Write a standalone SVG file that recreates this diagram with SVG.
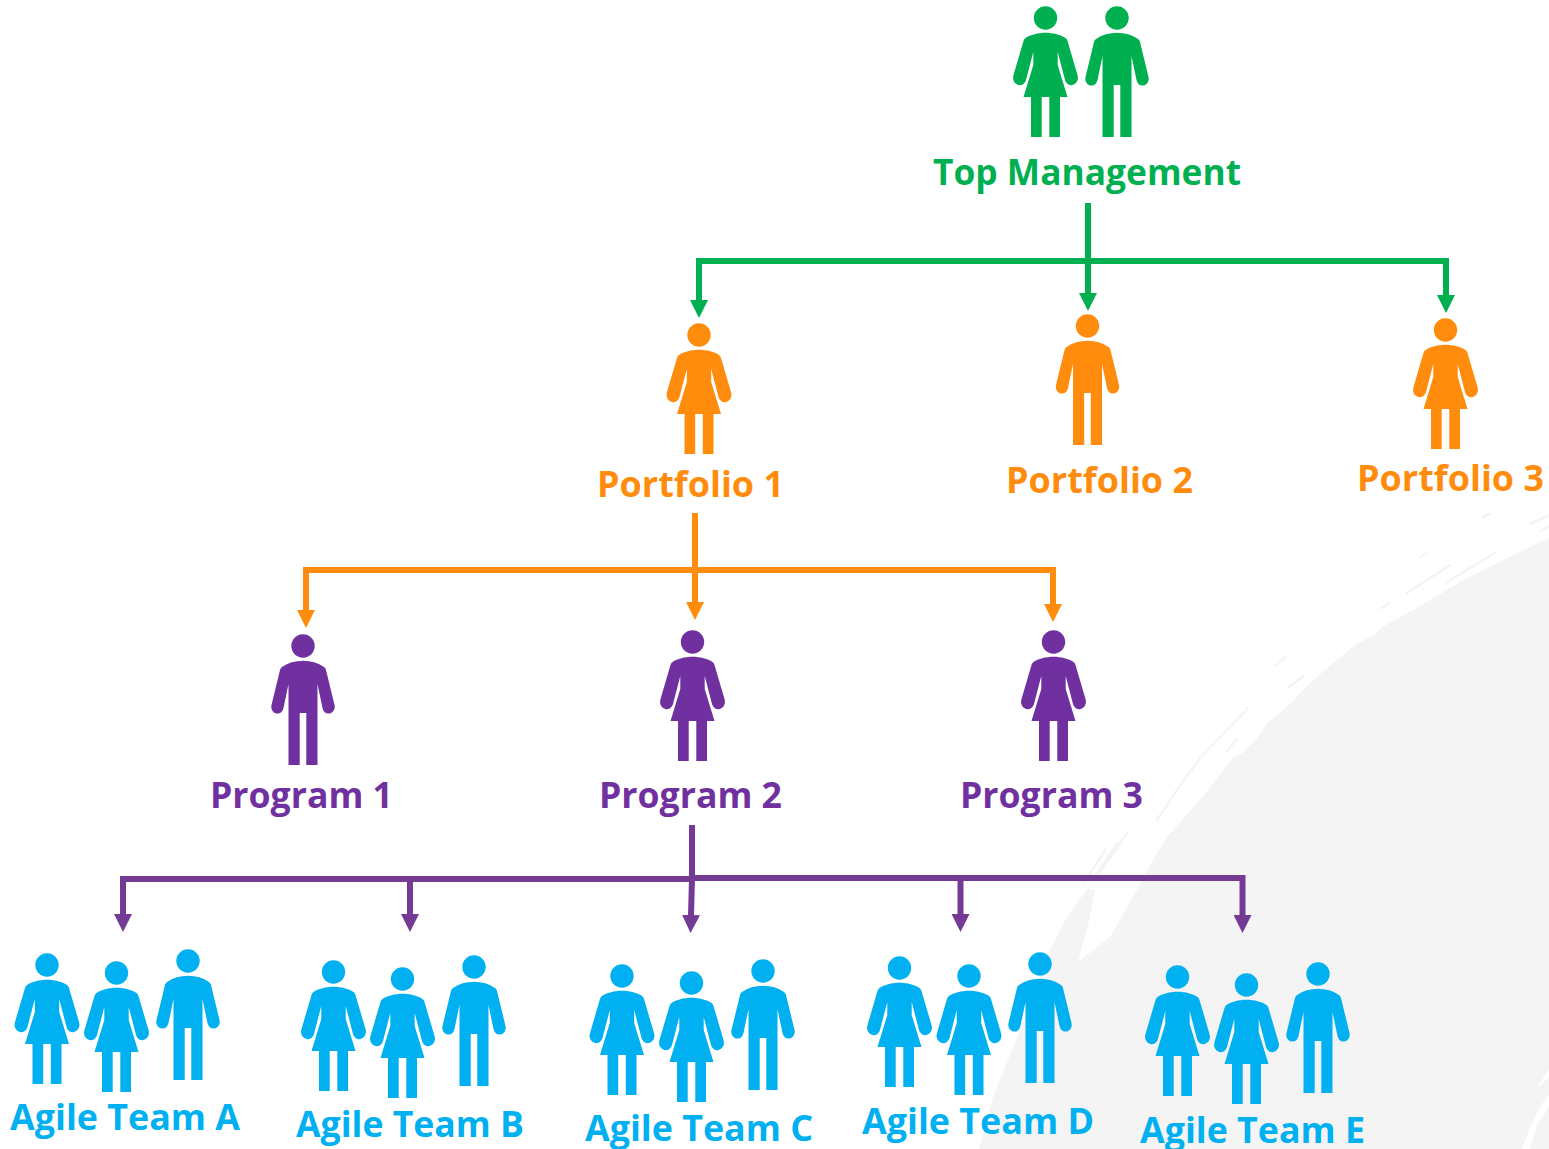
<svg xmlns="http://www.w3.org/2000/svg" width="1549" height="1149" viewBox="0 0 1549 1149">
<style>
text{font-family:"Open Sans","Noto Sans",sans-serif;font-weight:700;font-size:36px}
.g{fill:#00B050}.o{fill:#FF8C0C}.p{fill:#7030A0}.b{fill:#00B0F0}
.cg,.co,.cp{fill:none;stroke-width:6}
.cg{stroke:#00B050}.co{stroke:#FF8C0C}.cp{stroke:#753A94}
.st{fill:none;stroke:#F4F4F4;stroke-width:2.500;stroke-linecap:round}
</style>
<defs>
<symbol id="woman" overflow="visible" viewBox="-33 -12 66 132" width="66" height="132" x="-33" y="-12">
<circle cx="0" cy="0" r="11.700"/>
<path d="M0 14.800C-8 14.800-15 17-20 20Q-21.500 21-22 23L-32 57C-33.500 62-31 66-27 67C-23 68-20.500 65-19.500 62L-12.200 34V47L-22 79H-14.500V119H-3.800V79H3.800V119H14.500V79H22L12.200 47V34L19.500 62C20.500 65 23 68 27 67C31 66 33.500 62 32 57L22 23Q21.500 21 20 20C15 17 8 14.800 0 14.800Z"/>
</symbol>
<symbol id="man" overflow="visible" viewBox="-33 -12 66 132" width="66" height="132" x="-33" y="-12">
<circle cx="0" cy="0" r="11.700"/>
<path d="M0 14.800C-8 14.800-15 17-21 21Q-22.500 22-23 24L-31.500 59C-32.500 63-30 67-26.500 67.500C-23 68-20.500 66-19.500 62L-14.500 38V119H-3.300V67H3.300V119H14.500V38L19.500 62C20.500 66 23 68 26.500 67.500C30 67 32.500 63 31.500 59L23 24Q22.500 22 21 21C15 17 8 14.800 0 14.800Z"/>
</symbol>
<marker id="ag" markerUnits="userSpaceOnUse" markerWidth="18" markerHeight="18" refX="1" refY="9" orient="auto"><path d="M0 0L18 9L0 18Z" fill="#00B050"/></marker>
<marker id="ao" markerUnits="userSpaceOnUse" markerWidth="18" markerHeight="18" refX="1" refY="9" orient="auto"><path d="M0 0L18 9L0 18Z" fill="#FF8C0C"/></marker>
<marker id="ap" markerUnits="userSpaceOnUse" markerWidth="18" markerHeight="18" refX="1" refY="9" orient="auto"><path d="M0 0L18 9L0 18Z" fill="#753A94"/></marker>
</defs>
<g id="background">
<path fill="#F4F4F4" d="M979 1149L993 1097L1020 1030L1050 950L1068 915L1088 888L1095 890L1088 925L1078 962L1110 937L1133 897L1153 860L1167 837L1200 800L1233 758L1242 753L1257 738L1268 722L1287 707L1310 683L1333 663L1355 645L1375 634L1382 627L1413 610L1467 578L1505 559L1549 538V1095L1541 1105L1530 1127L1522 1149L1530 1149L1537 1125L1544 1115L1549 1105V1149Z"/>
<path fill="#FFFFFF" d="M1549 1070L1537 1087L1541 1085L1549 1077Z"/>
<path class="st" d="M1483 517L1490 514M1530 524L1549 515M1540 531L1549 526M1420 557L1427 553M1407 593L1450 565M1447 582L1495 553M1382 608L1389 603M1275 666L1285 657M1288 688L1303 676M1227 751L1237 739M1157 820L1177 790L1200 758L1248 708M1085 882L1105 850M1093 880L1118 842M1100 872L1128 832"/>
</g>
<g id="connectors">
<path class="cg" d="M699 301V261H1446V296" marker-end="url(#ag)"/>
<path class="cg" d="M699 264V301" marker-end="url(#ag)"/>
<path class="cg" d="M1088 203V294" marker-end="url(#ag)"/>
<path class="co" d="M306 573V570H1053V605" marker-end="url(#ao)"/>
<path class="co" d="M306 570V611" marker-end="url(#ao)"/>
<path class="co" d="M695 513V603" marker-end="url(#ao)"/>
<path class="cp" d="M692 825V878L691 916" marker-end="url(#ap)"/>
<path class="cp" d="M692 879H123V915" marker-end="url(#ap)"/>
<path class="cp" d="M692 878H1242.500V916" marker-end="url(#ap)"/>
<path class="cp" d="M410 879V915" marker-end="url(#ap)"/>
<path class="cp" d="M960.500 878V915" marker-end="url(#ap)"/>
</g>
<g id="top-management" class="g"><use href="#woman" x="1045.500" y="18"/><use href="#man" x="1117" y="18"/><text x="933" y="185" textLength="308" lengthAdjust="spacingAndGlyphs">Top Management</text></g>
<g id="portfolio-1" class="o"><use href="#woman" x="699" y="335"/><text x="597" y="497" textLength="187" lengthAdjust="spacingAndGlyphs">Portfolio 1</text></g>
<g id="portfolio-2" class="o"><use href="#man" x="1087.500" y="326"/><text x="1006" y="493" textLength="187" lengthAdjust="spacingAndGlyphs">Portfolio 2</text></g>
<g id="portfolio-3" class="o"><use href="#woman" x="1445.500" y="330"/><text x="1357" y="491" textLength="187" lengthAdjust="spacingAndGlyphs">Portfolio 3</text></g>
<g id="program-1" class="p"><use href="#man" x="303" y="646"/><text x="210" y="808" textLength="183" lengthAdjust="spacingAndGlyphs">Program 1</text></g>
<g id="program-2" class="p"><use href="#woman" x="692.500" y="642"/><text x="599" y="808" textLength="183" lengthAdjust="spacingAndGlyphs">Program 2</text></g>
<g id="program-3" class="p"><use href="#woman" x="1053.500" y="642"/><text x="960" y="808" textLength="183" lengthAdjust="spacingAndGlyphs">Program 3</text></g>
<g id="agile-team-a" class="b"><use href="#woman" x="47" y="965"/><use href="#woman" x="116.500" y="973"/><use href="#man" x="188" y="961"/><text x="10" y="1130" textLength="230" lengthAdjust="spacingAndGlyphs">Agile Team A</text></g>
<g id="agile-team-b" class="b"><use href="#woman" x="333.500" y="972"/><use href="#woman" x="402.500" y="979"/><use href="#man" x="474" y="967"/><text x="296" y="1137" textLength="228" lengthAdjust="spacingAndGlyphs">Agile Team B</text></g>
<g id="agile-team-c" class="b"><use href="#woman" x="622" y="976"/><use href="#woman" x="691.500" y="983"/><use href="#man" x="763" y="971"/><text x="585" y="1141" textLength="228" lengthAdjust="spacingAndGlyphs">Agile Team C</text></g>
<g id="agile-team-d" class="b"><use href="#woman" x="899.500" y="968"/><use href="#woman" x="969" y="976"/><use href="#man" x="1040" y="964"/><text x="862" y="1134" textLength="232" lengthAdjust="spacingAndGlyphs">Agile Team D</text></g>
<g id="agile-team-e" class="b"><use href="#woman" x="1177.500" y="977"/><use href="#woman" x="1246.500" y="985"/><use href="#man" x="1318" y="974"/><text x="1140" y="1143" textLength="225" lengthAdjust="spacingAndGlyphs">Agile Team E</text></g>
</svg>
